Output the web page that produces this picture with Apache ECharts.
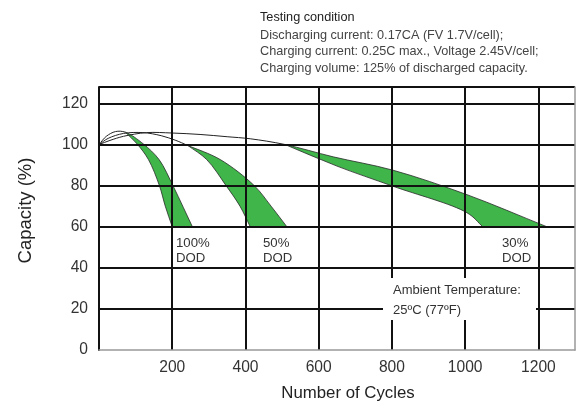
<!DOCTYPE html>
<html><head><meta charset="utf-8">
<script src="https://cdn.jsdelivr.net/npm/echarts@6/dist/echarts.min.js"></script>
<style>html,body{margin:0;padding:0;background:#fff}#c{width:576px;height:410px}</style>
</head><body><div id="c"></div>
<script>
// ---- data (cycles, capacity %) ----
const xAxisName = 'Number of Cycles';
const yAxisName = 'Capacity (%)';
const dodNames = ['100%\nDOD', '50%\nDOD', '30%\nDOD'];
// thin life curve up to the tip, then outer (upper) edge of the band
const dod100Outer = [[0,100],[20,104],[45,106.3],[72,106],[121,100.3],[164,92.7],[202,80],[230,69.5],[255,60]];
const dod100Inner = [[72,106],[104,100.3],[135,92.7],[165,80],[181,70],[200,60]];
const dod50Outer = [[0,100],[25,103],[67,105.4],[120,105.8],[170,104.3],[210,102],[243,99.5],[331,92.7],[424,80],[470,70],[513,60]];
const dod50Inner = [[243,99.5],[294,92.7],[347,80],[385,70],[413,60]];
const dod30Outer = [[0,100],[30,102],[67,104],[130,105.8],[200,105.6],[276,104.9],[350,103.8],[413,102.8],[508,100],[640,94],[803,87.5],[1005,75.6],[1223,60]];
const dod30Inner = [[508,100],[650,89.5],[803,79.7],[1005,66.8],[1048,60]];
const testingLines = ['Testing condition','Discharging current: 0.17CA (FV 1.7V/cell);','Charging current: 0.25C max., Voltage 2.45V/cell;','Charging volume: 125% of discharged capacity.'];
const ambientText = 'Ambient Temperature:\n25ºC (77ºF)';

const regions = [
  {outer: dod100Outer, inner: dod100Inner},
  {outer: dod50Outer, inner: dod50Inner},
  {outer: dod30Outer, inner: dod30Inner}
];

const FONT = '"Liberation Sans",Arial,Helvetica,sans-serif';

function segs(p){
  const s=[], n=p.length;
  const d=(a,b)=>Math.sqrt(Math.hypot(a[0]-b[0],a[1]-b[1]));
  for(let i=0;i<n-1;i++){
    const p1=p[i], p2=p[i+1], p0=i>0?p[i-1]:null, p3=i+2<n?p[i+2]:null;
    const a2=d(p1,p2);
    let c1,c2;
    if(p0){const a1=d(p0,p1);c1=[0,1].map(k=>(a1*a1*p2[k]-a2*a2*p0[k]+(2*a1*a1+3*a1*a2+a2*a2)*p1[k])/(3*a1*(a1+a2)));}
    else c1=[p1[0]+(p2[0]-p1[0])/3,p1[1]+(p2[1]-p1[1])/3];
    if(p3){const a3=d(p2,p3);c2=[0,1].map(k=>(a3*a3*p1[k]-a2*a2*p3[k]+(2*a3*a3+3*a3*a2+a2*a2)*p2[k])/(3*a3*(a3+a2)));}
    else c2=[p2[0]-(p2[0]-p1[0])/3,p2[1]-(p2[1]-p1[1])/3];
    s.push([p1,c1,c2,p2]);
  }
  return s;
}
const f = v => v[0].toFixed(2)+' '+v[1].toFixed(2);

const chart = echarts.init(document.getElementById('c'));
chart.setOption({
  animation:false,
  grid:{left:99,right:1,top:87,bottom:60,containLabel:false},
  xAxis:{type:'value',min:0,max:1300,interval:200,z:3,
    name:xAxisName,nameLocation:'middle',nameGap:35,
    nameTextStyle:{fontFamily:FONT,fontSize:16.8,color:'#222',padding:[0,0,0,22]},
    axisLine:{show:true,onZero:false,lineStyle:{color:'#999',width:1.5}},
    axisTick:{show:false},
    axisLabel:{showMinLabel:false,showMaxLabel:false,margin:10,fontFamily:FONT,fontSize:15.6,color:'#333',formatter:v=>String(v)},
    splitLine:{show:true,showMaxLine:false,lineStyle:{color:'#111',width:2}}
  },
  yAxis:[{type:'value',min:0,max:128,interval:20,z:3,
    name:yAxisName,nameLocation:'middle',nameGap:64,
    nameTextStyle:{fontFamily:FONT,fontSize:18.5,color:'#222',padding:[0,0,0,16]},
    axisLine:{show:true,lineStyle:{color:'#111',width:2}},
    axisTick:{show:false},
    axisLabel:{margin:11,fontFamily:FONT,fontSize:15.6,color:'#333',formatter:v=>v%20===0?String(v):''},
    splitLine:{show:true,showMinLine:false,lineStyle:{color:'#111',width:2}}
  },{type:'value',min:0,max:128,position:'right',z:3,
    axisLine:{show:true,lineStyle:{color:'#999',width:1.5}},axisTick:{show:false},axisLabel:{show:false},splitLine:{show:false}
  }],
  series:[{
    type:'custom',
    coordinateSystem:'cartesian2d',
    data:regions.map((r,i)=>[r.inner[0][0],r.inner[0][1],i]),
    renderItem:function(params,api){
      const r=regions[params.dataIndex];
      const outer=r.outer.map(p=>api.coord(p));
      const inner=r.inner.map(p=>api.coord(p));
      const tipX=r.inner[0][0];
      const tip=r.outer.findIndex(p=>p[0]===tipX);
      const os=segs(outer), is=segs(inner);
      let lead='M'+f(outer[0]);
      for(let i=0;i<tip;i++) lead+=' C'+f(os[i][1])+' '+f(os[i][2])+' '+f(os[i][3]);
      let fill='M'+f(outer[tip]);
      for(let i=tip;i<os.length;i++) fill+=' C'+f(os[i][1])+' '+f(os[i][2])+' '+f(os[i][3]);
      fill+=' L'+f(inner[inner.length-1]);
      for(let i=is.length-1;i>=0;i--) fill+=' C'+f(is[i][2])+' '+f(is[i][1])+' '+f(is[i][0]);
      fill+=' Z';
      return {type:'group',children:[
        {type:'path',shape:{pathData:fill},style:{fill:'#3fb54a',stroke:'#2a2a2a',lineWidth:0.8}},
        {type:'path',shape:{pathData:lead},style:{fill:null,stroke:'#222',lineWidth:1}}
      ]};
    }
  }],
  graphic:[
    {type:'text',left:260,top:10.5,style:{text:testingLines[0],font:'12.7px '+FONT,fill:'#222'}},
    {type:'text',left:260,top:27,style:{text:testingLines.slice(1).join('\n'),font:'12.7px '+FONT,fill:'#444',lineHeight:16.5}},
    {type:'text',left:176,top:236,style:{text:dodNames[0],font:'13.2px '+FONT,fill:'#333',lineHeight:15}},
    {type:'text',left:263,top:236,style:{text:dodNames[1],font:'13.2px '+FONT,fill:'#333',lineHeight:15}},
    {type:'text',left:502,top:236,style:{text:dodNames[2],font:'13.2px '+FONT,fill:'#333',lineHeight:15}},
    {type:'rect',z:10,shape:{x:383,y:278,width:153,height:42},style:{fill:'#fff'}},
    {type:'text',z:11,left:393,top:281,style:{text:ambientText,font:'13px '+FONT,fill:'#333',lineHeight:19.3}}
  ]
});
</script></body></html>
